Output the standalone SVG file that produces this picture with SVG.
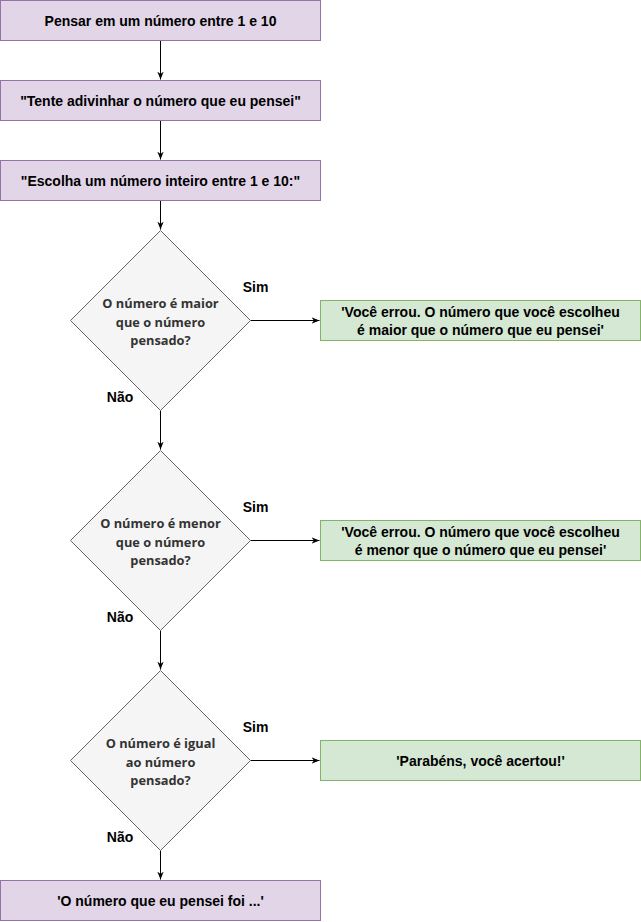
<svg xmlns="http://www.w3.org/2000/svg" width="641" height="922" viewBox="0 0 641 922">
<style>
.p{fill:#e1d5e7;stroke:#9673a6;stroke-width:1}
.g{fill:#d5e8d4;stroke:#82b366;stroke-width:1}
.d{fill:#f5f5f5;stroke:#666666;stroke-width:1}
text{font-family:"Liberation Sans",Arial,sans-serif;font-size:14px;font-weight:bold;text-anchor:middle;dominant-baseline:central}
.t{fill:#000000}
.dt{fill:#333333;font-family:"Open Sans","Noto Sans",sans-serif;font-size:12.8px;font-weight:bold}
.e{fill:none;stroke:#000000;stroke-width:1}
</style>
<defs>
<marker id="ar" viewBox="0 0 10 10" refX="10" refY="5" markerWidth="8" markerHeight="8" markerUnits="userSpaceOnUse" orient="auto">
<path d="M0,1 L10,5 L0,9 L3,5 Z" fill="#000"/>
</marker>
</defs>
<rect width="641" height="922" fill="#ffffff"/>
<g id="connectors">
<path class="e" d="M160.5,40.5 V79.5" marker-end="url(#ar)"/>
<path class="e" d="M160.5,120.5 V159.5" marker-end="url(#ar)"/>
<path class="e" d="M160.5,200.5 V229.5" marker-end="url(#ar)"/>
<path class="e" d="M250.5,320.5 H319.5" marker-end="url(#ar)"/>
<path class="e" d="M160.5,410.5 V449.5" marker-end="url(#ar)"/>
<path class="e" d="M250.5,540.5 H319.5" marker-end="url(#ar)"/>
<path class="e" d="M160.5,630.5 V669.5" marker-end="url(#ar)"/>
<path class="e" d="M250.5,760.5 H319.5" marker-end="url(#ar)"/>
<path class="e" d="M160.5,850.5 V879.5" marker-end="url(#ar)"/>
<text class="t" x="255.5" y="287">Sim</text>
<text class="t" x="120" y="397">Não</text>
<text class="t" x="255.5" y="507">Sim</text>
<text class="t" x="120" y="617">Não</text>
<text class="t" x="255.5" y="727">Sim</text>
<text class="t" x="120" y="837">Não</text>
</g>
<g id="n1"><rect class="p" x="0.5" y="0.5" width="320" height="40"/><text class="t" x="160.5" y="20.5">Pensar em um número entre 1 e 10</text></g>
<g id="n2"><rect class="p" x="0.5" y="80.5" width="320" height="40"/><text class="t" x="160.5" y="100.5">"Tente adivinhar o número que eu pensei"</text></g>
<g id="n3"><rect class="p" x="0.5" y="160.5" width="320" height="40"/><text class="t" x="160.5" y="180.5">"Escolha um número inteiro entre 1 e 10:"</text></g>
<g id="d1"><path class="d" d="M160.5,230.5 L250.5,320.5 L160.5,410.5 L70.5,320.5 Z"/>
<text class="dt" x="160.5" y="303">O número é maior</text><text class="dt" x="160.5" y="321.5">que o número</text><text class="dt" x="160.5" y="340">pensado?</text></g>
<g id="r1"><rect class="g" x="320.5" y="300.5" width="320" height="40"/><text class="t" x="480.5" y="311.5">'Você errou. O número que você escolheu</text><text class="t" x="480.5" y="329.5">é maior que o número que eu pensei'</text></g>
<g id="d2"><path class="d" d="M160.5,450.5 L250.5,540.5 L160.5,630.5 L70.5,540.5 Z"/>
<text class="dt" x="160.5" y="523">O número é menor</text><text class="dt" x="160.5" y="541.5">que o número</text><text class="dt" x="160.5" y="560">pensado?</text></g>
<g id="r2"><rect class="g" x="320.5" y="520.5" width="320" height="40"/><text class="t" x="480.5" y="531.5">'Você errou. O número que você escolheu</text><text class="t" x="480.5" y="549.5">é menor que o número que eu pensei'</text></g>
<g id="d3"><path class="d" d="M160.5,670.5 L250.5,760.5 L160.5,850.5 L70.5,760.5 Z"/>
<text class="dt" x="160.5" y="743">O número é igual</text><text class="dt" x="160.5" y="761.5">ao número</text><text class="dt" x="160.5" y="780">pensado?</text></g>
<g id="r3"><rect class="g" x="320.5" y="740.5" width="320" height="40"/><text class="t" x="480.5" y="760.5">'Parabéns, você acertou!'</text></g>
<g id="n4"><rect class="p" x="0.5" y="880.5" width="320" height="40"/><text class="t" x="160.5" y="900.5">'O número que eu pensei foi ...'</text></g>
</svg>
